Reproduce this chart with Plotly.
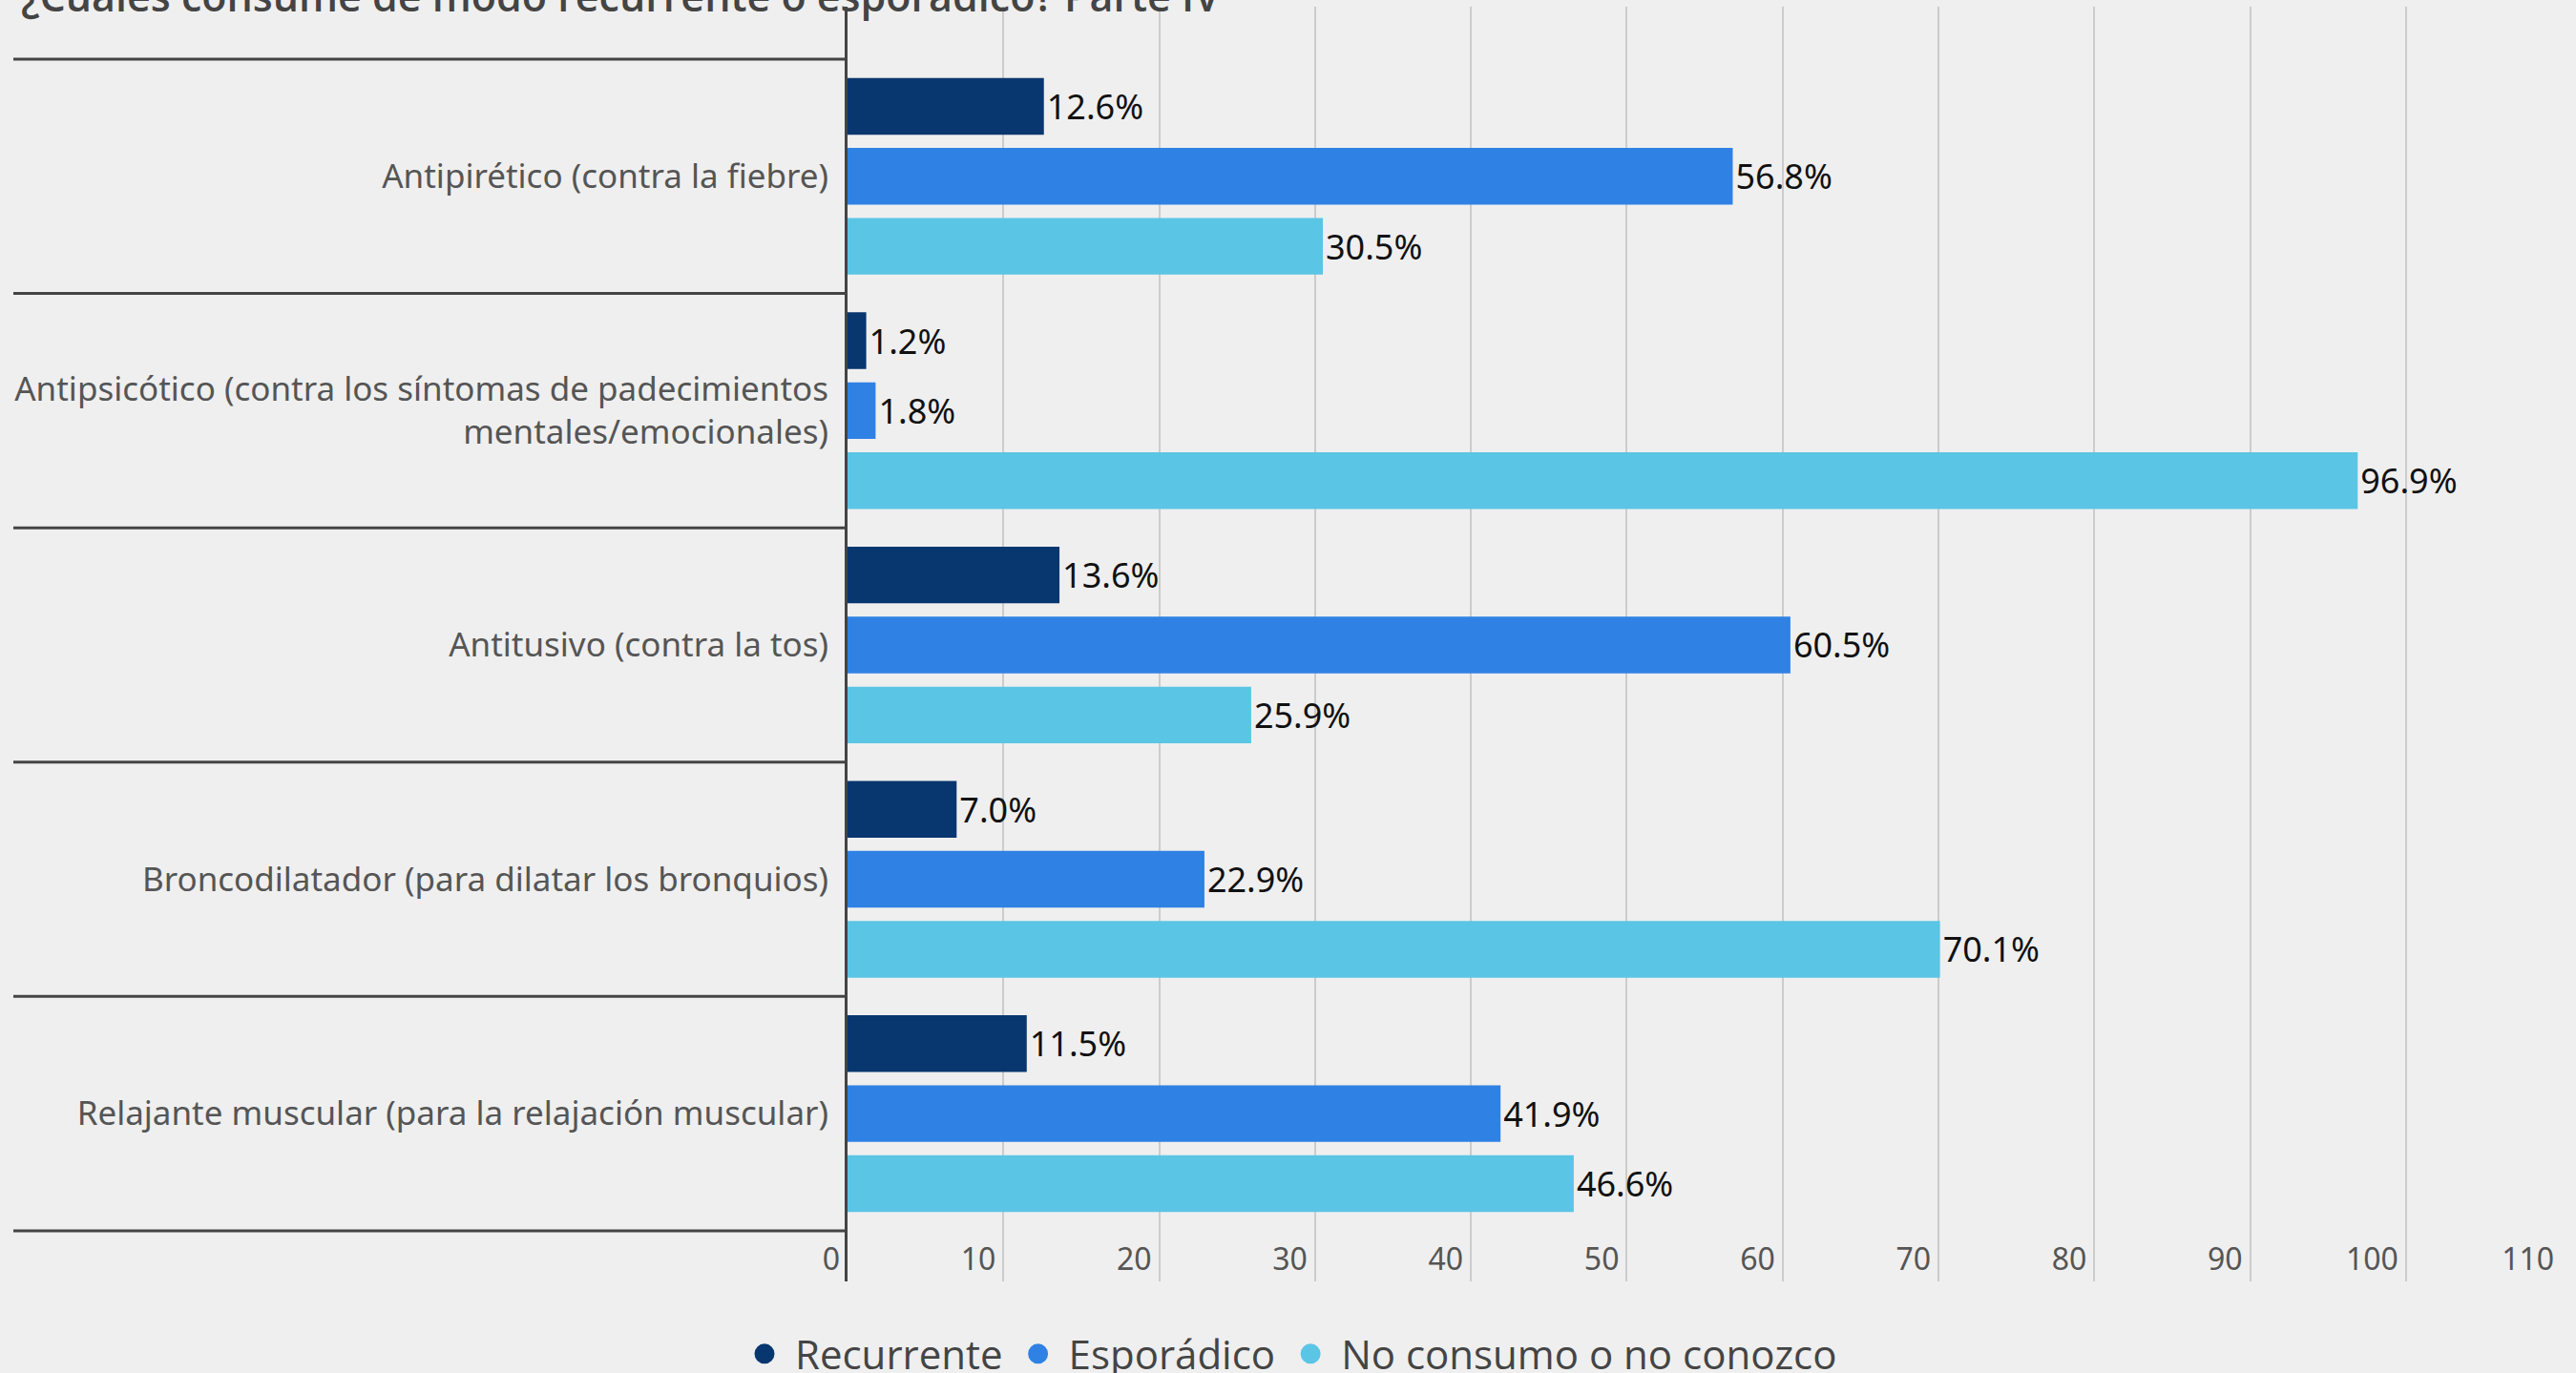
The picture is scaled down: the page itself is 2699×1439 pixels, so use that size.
import plotly.graph_objects as go

# ---- data ----
categories = [
    "Antipirético (contra la fiebre)",
    "Antipsicótico (contra los síntomas de padecimientos<br>mentales/emocionales)",
    "Antitusivo (contra la tos)",
    "Broncodilatador (para dilatar los bronquios)",
    "Relajante muscular (para la relajación muscular)",
]
recurrente = [12.6, 1.2, 13.6, 7.0, 11.5]
esporadico = [56.8, 1.8, 60.5, 22.9, 41.9]
no_consumo = [30.5, 96.9, 25.9, 70.1, 46.6]
series_names = ["Recurrente", "Esporádico", "No consumo o no conozco"]
x_ticks = [0, 10, 20, 30, 40, 50, 60, 70, 80, 90, 100, 110]
title_text = "¿Cuáles consume de modo recurrente o esporádico? Parte IV"

colors = ["#08366f", "#2f81e4", "#5bc5e5"]
series_values = [recurrente, esporadico, no_consumo]

W, H = 2699, 1439
ML, MR, MT, MB = 888, 14, 7, 96
plot_w = W - ML - MR

fig = go.Figure()
for name, vals, col in zip(series_names, series_values, colors):
    fig.add_trace(go.Bar(
        y=categories, x=vals, name=name, orientation="h",
        marker=dict(color=col, line=dict(width=0)),
        text=[f"{v:.1f}%" for v in vals], textposition="outside",
        textfont=dict(family="Noto Sans", size=36, color="#111111"),
        cliponaxis=False, showlegend=False, hoverinfo="skip",
    ))

# legend proxies (circle symbols)
for name, col in zip(series_names, colors):
    fig.add_trace(go.Scatter(
        x=[None], y=[None], mode="markers", name=name,
        marker=dict(symbol="circle", size=16, color=col, line=dict(color=col, width=5)),
        showlegend=True,
    ))

# category separator lines extending left of the axis
n = len(categories)
for i in range(n + 1):
    fig.add_shape(type="line", xref="paper", yref="y",
                  x0=(14 - ML) / plot_w, x1=0, y0=i - 0.5, y1=i - 0.5,
                  line=dict(color="#444444", width=3), layer="above")

fig.add_annotation(
    text=title_text, xref="paper", yref="paper",
    x=(20 - ML) / plot_w, xanchor="left", y=1, yanchor="bottom", yshift=-20,
    showarrow=False, font=dict(family="Open Sans", size=43, color="#444444", weight=600),
)

fig.update_layout(
    width=W, height=H,
    margin=dict(l=ML, r=MR, t=MT, b=MB, autoexpand=False),
    paper_bgcolor="#efefef", plot_bgcolor="rgba(0,0,0,0)",
    barmode="group", bargap=0.104, bargroupgap=0.19,
    font=dict(family="Noto Sans", color="#555555"),
    xaxis=dict(
        range=[0, 110.05], tickmode="array", tickvals=x_ticks,
        showgrid=True, gridcolor="#cccccc", gridwidth=2, zeroline=False,
        showline=False, ticks="",
        ticklabelposition="inside left", ticklabeloverflow="allow",
        ticklabelshift=-8,
        tickfont=dict(family="Noto Sans", size=32, color="#555555"),
    ),
    yaxis=dict(
        type="category", categoryorder="array", categoryarray=categories,
        range=[n - 0.5 + 0.216, -0.5 - 0.224],
        showline=True, linecolor="#444444", linewidth=3, showgrid=False,
        zeroline=False, ticks="", ticklabelstandoff=10,
        tickfont=dict(family="Noto Sans", size=35, color="#555555"),
    ),
    legend=dict(
        orientation="h", xref="container", x=0.5, xanchor="center",
        yref="container", y=(H - 1419) / H, yanchor="middle",
        font=dict(family="Open Sans", size=42, color="#444444"),
        bgcolor="rgba(0,0,0,0)", itemwidth=54,
    ),
)

fig.write_html("out.html", config={"displayModeBar": False},
               post_script="document.body.style.margin='0px';")
